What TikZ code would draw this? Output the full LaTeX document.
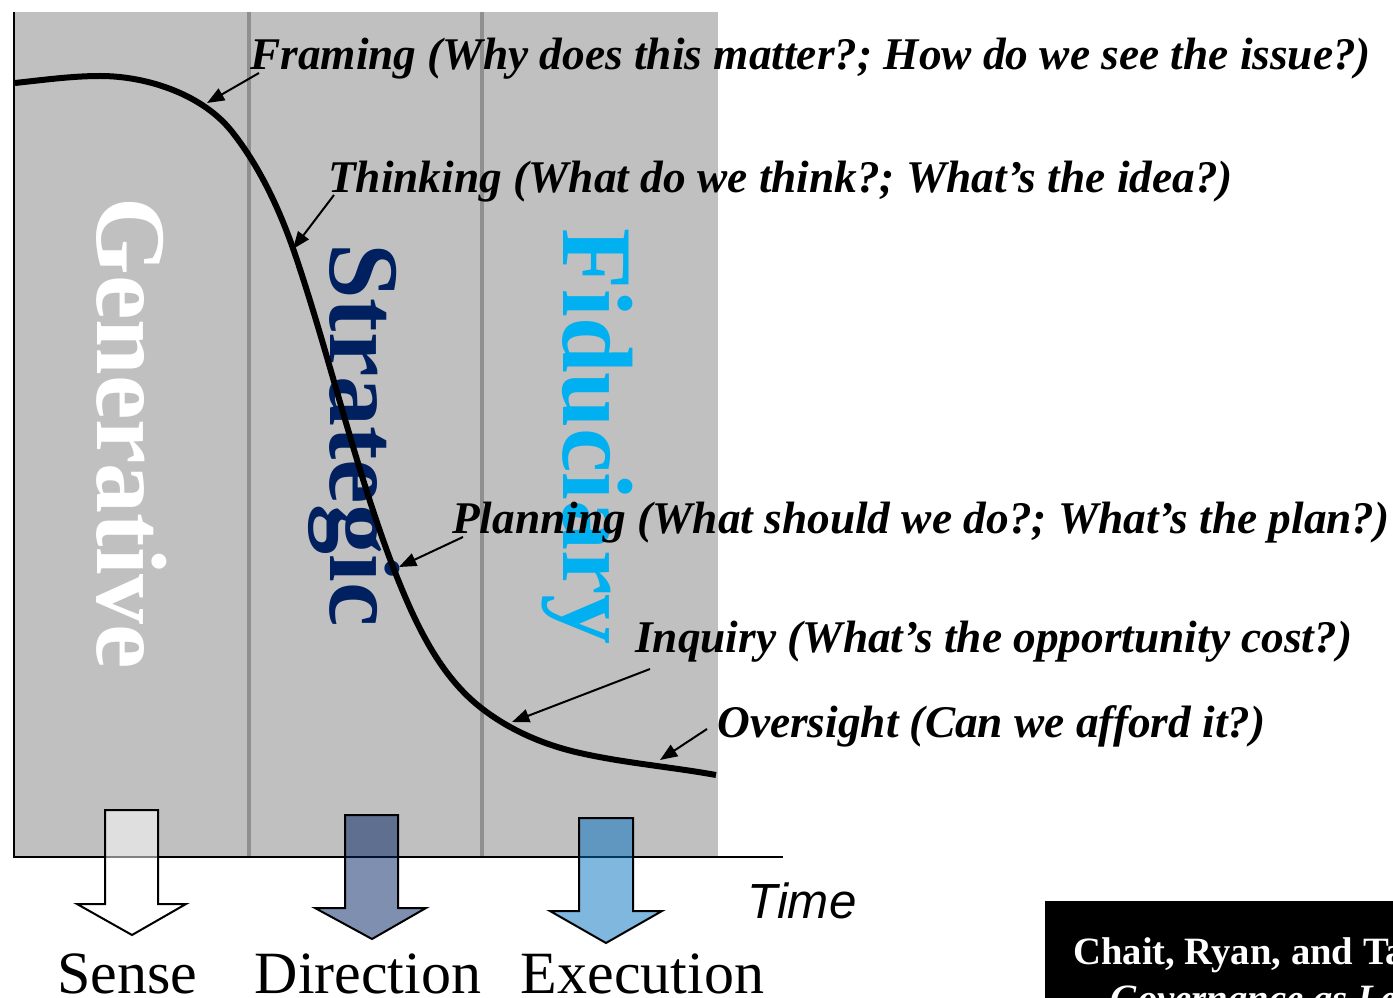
\documentclass[tikz,border=0pt]{standalone}
\usepackage{fontspec}
\setmainfont{Liberation Serif}
\newfontfamily\timefont{Liberation Sans}
\usetikzlibrary{arrows.meta}
\definecolor{panelgray}{HTML}{C0C0C0}
\definecolor{divgray}{HTML}{8F8F8F}
\definecolor{navy}{HTML}{002060}
\definecolor{skyblue}{HTML}{00B0F0}
\definecolor{midblue}{HTML}{0070C0}
\begin{document}
\begin{tikzpicture}[x=0.75pt,y=-0.75pt,
  lbl/.style={font=\bfseries\itshape\fontsize{34}{40}\selectfont, anchor=base west, inner sep=0pt},
  big/.style={font=\bfseries\fontsize{75}{80}\selectfont, anchor=base west, inner sep=0pt, rotate=-90},
  ptr/.style={line width=1.5pt, -{Triangle[length=13pt,width=10pt]}},
  blockarrow/.style={draw=black, line width=1.5pt, line join=miter, fill opacity=0.5},
  bottomlbl/.style={font=\fontsize{45}{50}\selectfont, anchor=base, inner sep=0pt},
  divider/.style={divgray, line width=3.2pt}]
\useasboundingbox (0,0) rectangle (1393,998);
\begin{scope}
\clip (0,0) rectangle (1393,998);
% panel
\fill[panelgray] (14,12) rectangle (718,857);
\draw[divider] (249,12) -- (249,857);
\draw[divider] (482,12) -- (482,857);
% big rotated words
\node[big, white] (gen) at (97,197) {Generative};
\node[big, navy] (str) at (330,243) {Strategic};
\node[big, skyblue] (fid) at (563,228) {Fiduciary};
% curve
\draw[line width=4.5pt, line cap=butt]
  (15,83) .. controls (43,80) and (72,76) .. (100,76)
  .. controls (148,76) and (204,95) .. (233,133)
  .. controls (262,170) and (282,215) .. (297,260)
  .. controls (331,362) and (355,467) .. (393,567)
  .. controls (413,618) and (437,673) .. (480,707)
  .. controls (509,730) and (544,745) .. (580,753)
  .. controls (624,763) and (672,767) .. (716,775);
% axes
\coordinate (ytop) at (14,12);
\coordinate (orig) at (14,857);
\coordinate (xend) at (783,857);
\draw[line width=1.5pt] (ytop) -- (orig) -- (xend);
% block arrows
\filldraw[blockarrow, fill=white] (105,810) -- (158,810) -- (158,904) -- (186,904) -- (132,935) -- (77,904) -- (105,904) -- cycle;
\filldraw[blockarrow, fill=navy] (345,815) -- (398,815) -- (398,908) -- (426,908) -- (372,939) -- (315,908) -- (345,908) -- cycle;
\filldraw[blockarrow, fill=midblue] (579,818) -- (633,818) -- (633,911) -- (662,911) -- (606,943) -- (550,911) -- (579,911) -- cycle;
\node[bottomlbl] (sense) at (127.5,993) {Sense};
\node[bottomlbl] (dir) at (368,993) {Direction};
\node[bottomlbl] (exe) at (642.5,993) {Execution};
\node[font=\timefont\itshape\fontsize{37}{40}\selectfont, anchor=base west, inner sep=0pt] (time) at (747,918) {Time};
% labels
\node[lbl] (framing) at (250,70) {Framing (Why does this matter?; How do we see the issue?)};
\node[lbl] (thinking) at (328,193) {Thinking (What do we think?; What’s the idea?)};
\node[lbl] (planning) at (452,533) {Planning (What should we do?; What’s the plan?)};
\node[lbl] (inquiry) at (635,652) {Inquiry (What’s the opportunity cost?)};
\node[lbl] (oversight) at (717,737) {Oversight (Can we afford it?)};
% pointers
\coordinate (fr-s) at (259,73);  \coordinate (fr-e) at (207,103);
\coordinate (th-s) at (334,195); \coordinate (th-e) at (293,249);
\coordinate (pl-s) at (463,537); \coordinate (pl-e) at (399,567);
\coordinate (in-s) at (650,669); \coordinate (in-e) at (512,722);
\coordinate (ov-s) at (707,729); \coordinate (ov-e) at (660,760);
\draw[ptr] (fr-s) -- (fr-e);
\draw[ptr] (th-s) -- (th-e);
\draw[ptr] (pl-s) -- (pl-e);
\draw[ptr] (in-s) -- (in-e);
\draw[ptr] (ov-s) -- (ov-e);
% citation box
\fill[black] (1045,901) rectangle (1420,1030);
\node[font=\bfseries\fontsize{29}{32}\selectfont, text=white, anchor=base west, inner sep=0pt] (cite1) at (1073,964) {Chait, Ryan, and Taylor};
\node[font=\bfseries\itshape\fontsize{29}{32}\selectfont, text=white, anchor=base west, inner sep=0pt] (cite2) at (1110,1011) {Governance as Leadership};
\end{scope}
\end{tikzpicture}
\end{document}
